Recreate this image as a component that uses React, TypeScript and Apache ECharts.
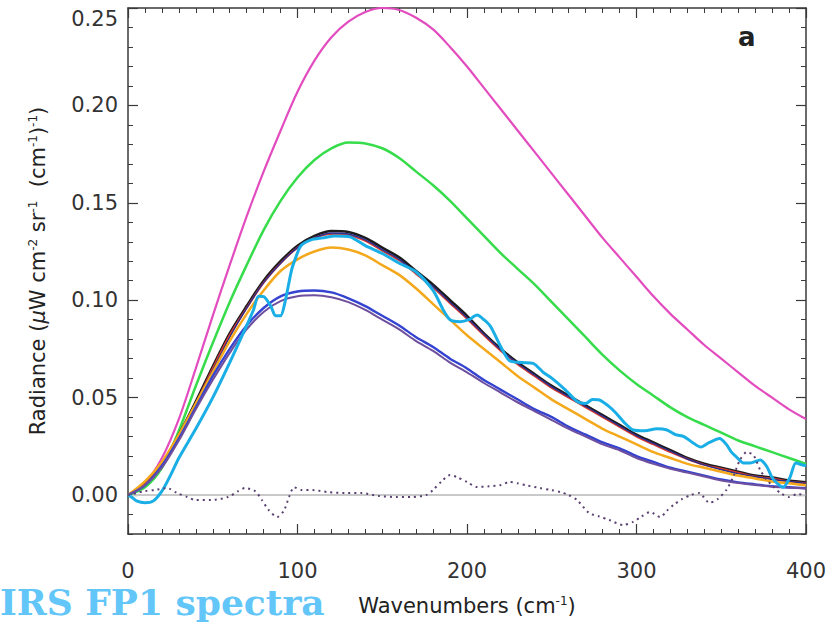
import React, { useEffect, useRef } from "react";
import * as echarts from "echarts";

// Wavenumber grid (cm^-1) for the model curves
const wn = [0, 10, 20, 30, 40, 50, 60, 70, 80, 90, 100, 110, 120, 130, 140, 150, 160, 170, 180, 190, 200,
  210, 220, 230, 240, 250, 260, 270, 280, 290, 300, 310, 320, 330, 340, 350, 360, 370, 380, 390, 400];

const magenta = [0, 0.006, 0.019, 0.039, 0.065, 0.092, 0.118, 0.143, 0.166, 0.187, 0.207, 0.223, 0.235, 0.243,
  0.248, 0.25, 0.249, 0.245, 0.239, 0.23, 0.22, 0.209, 0.198, 0.187, 0.176, 0.165, 0.154, 0.143, 0.132, 0.122,
  0.112, 0.102, 0.093, 0.085, 0.077, 0.07, 0.063, 0.056, 0.05, 0.044, 0.039];

const green = [0, 0.004, 0.014, 0.033, 0.056, 0.078, 0.099, 0.118, 0.136, 0.151, 0.163, 0.172, 0.178, 0.181,
  0.1805, 0.178, 0.173, 0.166, 0.159, 0.151, 0.142, 0.133, 0.124, 0.116, 0.108, 0.099, 0.09, 0.081, 0.072, 0.064,
  0.057, 0.051, 0.045, 0.04, 0.036, 0.032, 0.028, 0.025, 0.022, 0.019, 0.016];

const black = [0, 0.006, 0.016, 0.031, 0.048, 0.066, 0.083, 0.097, 0.11, 0.12, 0.128, 0.133, 0.1355, 0.135,
  0.132, 0.127, 0.122, 0.115, 0.108, 0.1, 0.092, 0.083, 0.075, 0.068, 0.062, 0.056, 0.051, 0.046, 0.041, 0.036,
  0.031, 0.027, 0.023, 0.019, 0.016, 0.014, 0.012, 0.01, 0.009, 0.0075, 0.0065];

const red = [0, 0.006, 0.016, 0.03, 0.047, 0.065, 0.082, 0.096, 0.109, 0.119, 0.127, 0.132, 0.134, 0.1335,
  0.1305, 0.1255, 0.1205, 0.1135, 0.1065, 0.0985, 0.0905, 0.082, 0.074, 0.067, 0.061, 0.055, 0.05, 0.045, 0.04,
  0.035, 0.03, 0.026, 0.022, 0.0185, 0.0155, 0.0135, 0.0115, 0.0095, 0.0085, 0.007, 0.006];

const navy = [0, 0.005, 0.015, 0.03, 0.047, 0.064, 0.081, 0.096, 0.109, 0.119, 0.127, 0.132, 0.1345, 0.134,
  0.131, 0.126, 0.121, 0.114, 0.107, 0.099, 0.091, 0.0825, 0.0745, 0.0675, 0.0615, 0.0555, 0.0505, 0.0455,
  0.0405, 0.0355, 0.0305, 0.0265, 0.0225, 0.0185, 0.0155, 0.013, 0.011, 0.0095, 0.008, 0.007, 0.006];

const orange = [0, 0.007, 0.017, 0.031, 0.047, 0.063, 0.079, 0.093, 0.105, 0.115, 0.121, 0.125, 0.127, 0.126,
  0.123, 0.118, 0.113, 0.106, 0.098, 0.09, 0.082, 0.075, 0.068, 0.061, 0.055, 0.049, 0.044, 0.039, 0.034, 0.03,
  0.026, 0.022, 0.019, 0.016, 0.014, 0.012, 0.01, 0.0085, 0.007, 0.006, 0.005];

const blue = [0, 0.005, 0.015, 0.029, 0.045, 0.061, 0.075, 0.087, 0.096, 0.102, 0.1045, 0.105, 0.104, 0.101,
  0.097, 0.092, 0.087, 0.081, 0.076, 0.07, 0.065, 0.059, 0.054, 0.049, 0.044, 0.04, 0.035, 0.031, 0.027, 0.024,
  0.02, 0.017, 0.014, 0.012, 0.01, 0.008, 0.0065, 0.0055, 0.0045, 0.004, 0.0035];

const purple = [0, 0.005, 0.014, 0.028, 0.044, 0.059, 0.073, 0.085, 0.094, 0.0995, 0.102, 0.1025, 0.1015, 0.099,
  0.095, 0.09, 0.085, 0.079, 0.074, 0.068, 0.063, 0.0575, 0.0525, 0.0475, 0.043, 0.0385, 0.034, 0.03, 0.026,
  0.023, 0.019, 0.016, 0.0135, 0.0115, 0.0095, 0.0075, 0.0062, 0.0052, 0.0043, 0.0038, 0.0033];

// Observed spectrum (cyan): [wavenumber, radiance]
const observed = [
  [0, 0], [2, -0.001], [5, -0.003], [10, -0.004], [15, -0.003], [20, 0.002], [25, 0.01], [30, 0.019],
  [40, 0.034], [50, 0.05], [60, 0.068], [70, 0.087], [74, 0.095], [77, 0.102], [80.5, 0.1016], [84.5, 0.0965],
  [87, 0.092], [90, 0.092], [92.5, 0.0985], [96.5, 0.1155], [99, 0.122], [102, 0.128], [108, 0.131],
  [115, 0.132], [122, 0.133], [131, 0.1325], [140, 0.128], [150, 0.124], [160, 0.119], [170, 0.1145],
  [180, 0.105], [186, 0.095], [190, 0.09], [196, 0.089], [201, 0.09], [206, 0.0924], [210, 0.09],
  [214, 0.0864], [220, 0.076], [225, 0.069], [232, 0.068], [239, 0.0676], [245, 0.063], [250, 0.06],
  [258, 0.054], [265, 0.048], [270, 0.047], [274, 0.049], [278, 0.0488], [283, 0.046], [288, 0.042],
  [293, 0.037], [298, 0.0334], [305, 0.033], [312, 0.034], [318, 0.0334], [323, 0.031], [328, 0.03],
  [333, 0.027], [338, 0.0246], [343, 0.027], [349, 0.029], [353, 0.026], [356, 0.022], [359, 0.0195],
  [363, 0.0165], [367, 0.0164], [373, 0.018], [377, 0.0144], [380, 0.009], [383, 0.006], [386.5, 0.004],
  [390.5, 0.009], [394, 0.0164], [398, 0.0154], [400, 0.015],
];

// Residual (dotted): [wavenumber, radiance]
const residual = [
  [0, 0], [5, 0.001], [10, 0.002], [16, 0.0026], [23, 0.0036], [29, 0.001], [35, -0.001], [40, -0.0026],
  [49, -0.0026], [59, -0.001], [65, 0.002], [69, 0.0036], [75, 0.002], [79, -0.0026], [83, -0.0077],
  [88, -0.0113], [92, -0.008], [95, -0.001], [98, 0.004], [102, 0.0026], [110, 0.0025], [118, 0.0015],
  [128, 0.001], [138, 0.001], [148, -0.0005], [158, -0.001], [168, -0.001], [176, 0], [180, 0.0026],
  [185, 0.007], [190, 0.0103], [194, 0.0092], [200, 0.0067], [206, 0.0041], [213, 0.0045], [220, 0.0051],
  [225, 0.0067], [230, 0.006], [235, 0.005], [243, 0.0036], [250, 0.0025], [255, 0.0015], [260, 0],
  [265, -0.0026], [272, -0.0092], [278, -0.011], [284, -0.0128], [292, -0.0154], [298, -0.0138],
  [303, -0.011], [308, -0.0087], [314, -0.0113], [318, -0.008], [322, -0.005], [327, -0.002], [332, 0],
  [337, 0.001], [343, -0.004], [348, -0.002], [353, 0.0026], [357, 0.0092], [361, 0.018], [365, 0.022],
  [369, 0.0205], [373, 0.0128], [377, 0.0077], [381, 0.004], [385, 0.001], [390, -0.001], [395, 0.0005],
  [400, 0],
];

const zeroLine = [[0, 0], [400, 0]];

const xTicks = { min: 0, max: 400, interval: 100 };
const yLabelTicks = { min: 0, max: 0.25, interval: 0.05 };
const yMinorTicks = { min: -0.02, max: 0.25, interval: 0.01 };

const FONT = "DejaVu Sans";
const AX = "#3a3a3a";

function zip(xs: number[], ys: number[]) {
  return xs.map((x, i) => [x, ys[i]]);
}

export default function App() {
  const ref = useRef<HTMLDivElement>(null);
  useEffect(() => {
    document.body.style.margin = "0";
    document.body.style.background = "#ffffff";
    const chart = echarts.init(ref.current!, null, { renderer: "svg" });
    const sup = { fontSize: 12, fontFamily: FONT, color: "#222", verticalAlign: "top" as const, lineHeight: 12, padding: [0, 0, 8, 0] };
    const line = (name: string, data: any, color: string, width: number, smooth: number, extra: any = {}) => ({
      name,
      type: "line",
      xAxisIndex: 0,
      yAxisIndex: 0,
      data,
      symbol: "none",
      showSymbol: false,
      silent: true,
      smooth,
      lineStyle: { color, width, ...extra },
    });
    const xAxisBase = {
      type: "value",
      ...xTicks,
      axisLine: { show: true, onZero: false, lineStyle: { color: AX, width: 1.5 } },
      axisTick: { show: true, inside: true, length: 10, lineStyle: { color: AX, width: 1.2 } },
      minorTick: { show: true, splitNumber: 10, length: 5, lineStyle: { color: AX, width: 1 } },
      splitLine: { show: false },
    };
    const yMinorBase = {
      type: "value",
      ...yMinorTicks,
      axisLine: { show: true, onZero: false, lineStyle: { color: AX, width: 1.5 } },
      axisTick: { show: true, inside: true, length: 5, lineStyle: { color: AX, width: 1 } },
      axisLabel: { show: false },
      splitLine: { show: false },
    };
    const yMajorBase = {
      type: "value",
      ...yLabelTicks,
      gridIndex: 1,
      axisLine: { show: false },
      axisTick: { show: true, inside: true, length: 10, lineStyle: { color: AX, width: 1.2 } },
      splitLine: { show: false },
    };
    chart.setOption({
      animation: false,
      backgroundColor: "#ffffff",
      grid: [
        { left: 128, right: 32, top: 8, bottom: 91 },
        { left: 128, right: 32, top: 8, bottom: 130 },
      ],
      xAxis: [
        {
          ...xAxisBase,
          gridIndex: 0,
          position: "bottom",
          axisLabel: { margin: 26, fontSize: 21, fontFamily: FONT, color: "#333" },
          name: "Wavenumbers (cm{sup|-1})",
          nameLocation: "middle",
          nameGap: 61,
          nameTextStyle: { fontSize: 21, fontFamily: FONT, color: "#222", rich: { sup } },
        },
        { ...xAxisBase, gridIndex: 0, position: "top", axisLabel: { show: false } },
        { type: "value", gridIndex: 1, min: 0, max: 400, show: false },
      ],
      yAxis: [
        {
          ...yMinorBase,
          gridIndex: 0,
          position: "left",
          name: "Radiance ({mu|μ}W cm{sup|-2} sr{sup|-1}  (cm{sup|-1}){sup|-1})",
          nameLocation: "middle",
          nameGap: 80,
          nameTextStyle: {
            fontSize: 21,
            fontFamily: FONT,
            color: "#222",
            rich: { sup, mu: { fontSize: 21, fontFamily: FONT, fontStyle: "italic", color: "#222" } },
          },
        },
        { ...yMinorBase, gridIndex: 0, position: "right" },
        {
          ...yMajorBase,
          position: "left",
          axisLabel: {
            show: true,
            margin: 10,
            fontSize: 21,
            fontFamily: FONT,
            color: "#333",
            formatter: (v: number) => (Math.abs(v - 0.25) < 1e-9 ? "{top|0.25}" : v.toFixed(2)),
            rich: { top: { fontSize: 21, fontFamily: FONT, color: "#333", padding: [22, 0, 0, 0] } },
          },
        },
        { ...yMajorBase, position: "right", axisLabel: { show: false } },
      ],
      graphic: [
        {
          type: "text",
          left: 738,
          top: 24,
          style: { text: "a", font: "bold 26px 'DejaVu Sans'", fill: "#222" },
        },
        {
          type: "text",
          x: 0,
          y: 602,
          style: {
            text: "IRS FP1 spectra",
            font: "bold 36px 'DejaVu Serif'",
            fill: "#62c6f8",
            verticalAlign: "middle",
            align: "left",
          },
        },
      ],
      series: [
        line("zero", zeroLine, "#c9c9c9", 2, 0),
        line("magenta", zip(wn, magenta), "#e34cbf", 2.2, 0.3),
        line("green", zip(wn, green), "#36dc4a", 2.5, 0.3),
        line("black", zip(wn, black), "#1c1c1c", 2.6, 0.3),
        line("red", zip(wn, red), "#d8392c", 2, 0.3),
        line("navy", zip(wn, navy), "#2a2f8f", 1.4, 0.3),
        line("orange", zip(wn, orange), "#f4a81c", 2.5, 0.3),
        line("blue", zip(wn, blue), "#3443d0", 2.4, 0.3),
        line("purple", zip(wn, purple), "#6d4f9e", 2, 0.3),
        line("observed", observed, "#1aaee6", 3, 0.25),
        line("residual", residual, "#5a4070", 2, 0.25, { type: [2, 4] }),
      ],
    });
    return () => chart.dispose();
  }, []);
  return <div ref={ref} style={{ width: 838, height: 625 }} />;
}
